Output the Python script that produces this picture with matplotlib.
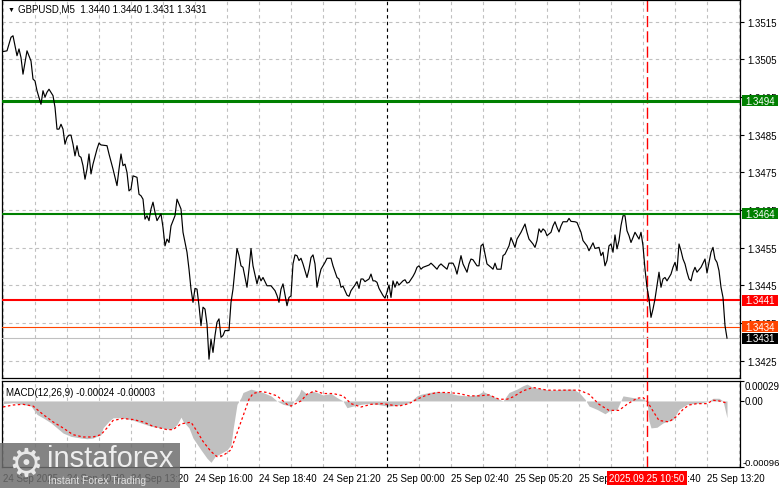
import matplotlib.pyplot as plt
import matplotlib.transforms as mtransforms
from matplotlib.patches import Rectangle
import numpy as np

W, H = 781, 489
plt.rcParams['font.family'] = ['Liberation Sans', 'DejaVu Sans']

# 5-minute bars counted from 25 Sep 00:00 (negative = 24 Sep)
price_bar = [
    -192, -190, -188, -187, -186, -185, -184, -183, -182, -181, -180, -178, -177, -176, -175,
    -173, -172, -171, -170, -169, -167, -166, -165, -164, -163, -162, -161, -160, -159, -158,
    -157, -156, -155, -154, -153, -152, -151, -150, -149, -148, -147, -145, -144, -143, -140,
    -139, -137, -135, -134, -133, -132, -131, -130, -129, -128, -127, -125, -124, -123, -122,
    -121, -120, -119, -118, -117, -116, -115, -113, -112, -111, -110, -109, -108, -106, -105,
    -103, -102, -100, -99, -98, -97, -96, -95, -94, -93, -92, -91, -90, -89, -88,
    -87, -86, -85, -84, -83, -82, -81, -79, -78, -77, -76, -75, -74, -73, -72,
    -70, -69, -68, -67, -65, -64, -63, -62, -60, -58, -56, -55, -54, -53, -52,
    -50, -49, -48, -47, -46, -45, -44, -43, -42, -40, -39, -38, -37, -36, -35,
    -34, -33, -31, -30, -28, -27, -25, -24, -23, -22, -20, -19, -18, -16, -15,
    -14, -13, -12, -11, -9, -8, -7, -6, -5, -4, -2, -1, 0, 1, 2,
    3, 4, 5, 6, 8, 9, 10, 11, 13, 14, 15, 16, 17, 18, 20,
    21, 22, 23, 25, 26, 27, 28, 30, 31, 33, 34, 35, 37, 38, 40,
    41, 42, 43, 45, 46, 47, 48, 49, 50, 52, 53, 54, 55, 57, 58,
    59, 61, 62, 63, 64, 65, 66, 67, 69, 70, 71, 73, 74, 75, 76,
    77, 78, 79, 80, 82, 83, 84, 85, 86, 87, 88, 90, 91, 92, 94,
    95, 97, 98, 100, 101, 103, 104, 106, 107, 108, 109, 110, 111, 112, 113,
    114, 115, 116, 117, 118, 119, 120, 121, 122, 123, 124, 125, 126, 127, 128,
    129, 130, 131, 132, 133, 134, 135, 136, 137, 138, 139, 140, 141, 142, 143,
    144, 145, 146, 147, 148, 149, 150, 151, 152, 153, 154, 155, 157, 159, 160,
    161, 162, 163, 164, 165, 166, 167, 168, 169, 170,
]
price_close = [
    1.35071, 1.35073, 1.35109, 1.35113, 1.35086, 1.35060, 1.35078, 1.35055, 1.35011, 1.35042,
    1.35073, 1.35046, 1.34998, 1.34993, 1.34967, 1.34931, 1.34967, 1.34950, 1.34963, 1.34971,
    1.34954, 1.34923, 1.34865, 1.34865, 1.34878, 1.34865, 1.34825, 1.34843, 1.34849, 1.34849,
    1.34825, 1.34794, 1.34821, 1.34794, 1.34790, 1.34768, 1.34732, 1.34759, 1.34799, 1.34746,
    1.34772, 1.34812, 1.34828, 1.34823, 1.34821, 1.34799, 1.34759, 1.34715, 1.34759, 1.34799,
    1.34768, 1.34772, 1.34750, 1.34701, 1.34706, 1.34741, 1.34737, 1.34692, 1.34688, 1.34679,
    1.34626, 1.34635, 1.34622, 1.34653, 1.34671, 1.34644, 1.34622, 1.34640, 1.34604, 1.34555,
    1.34573, 1.34564, 1.34608, 1.34635, 1.34679, 1.34653, 1.34591, 1.34538, 1.34493, 1.34440,
    1.34405, 1.34442, 1.34440, 1.34396, 1.34343, 1.34392, 1.34387, 1.34347, 1.34254, 1.34307,
    1.34272, 1.34317, 1.34352, 1.34361, 1.34312, 1.34317, 1.34330, 1.34330, 1.34405, 1.34440,
    1.34493, 1.34548, 1.34529, 1.34502, 1.34498, 1.34445, 1.34493, 1.34548, 1.34502, 1.34454,
    1.34476, 1.34462, 1.34471, 1.34449, 1.34449, 1.34436, 1.34423, 1.34405, 1.34440, 1.34454,
    1.34396, 1.34418, 1.34422, 1.34507, 1.34531, 1.34529, 1.34516, 1.34522, 1.34507, 1.34471,
    1.34493, 1.34524, 1.34531, 1.34507, 1.34445, 1.34471, 1.34493, 1.34511, 1.34522, 1.34522,
    1.34502, 1.34471, 1.34467, 1.34445, 1.34448, 1.34424, 1.34421, 1.34436, 1.34451, 1.34460,
    1.34442, 1.34467, 1.34467, 1.34460, 1.34467, 1.34480, 1.34462, 1.34462, 1.34458, 1.34442,
    1.34423, 1.34416, 1.34432, 1.34451, 1.34418, 1.34462, 1.34445, 1.34460, 1.34451, 1.34462,
    1.34465, 1.34456, 1.34458, 1.34474, 1.34484, 1.34498, 1.34502, 1.34493, 1.34498, 1.34502,
    1.34504, 1.34509, 1.34504, 1.34493, 1.34502, 1.34507, 1.34502, 1.34493, 1.34509, 1.34509,
    1.34498, 1.34480, 1.34529, 1.34507, 1.34485, 1.34507, 1.34520, 1.34518, 1.34502, 1.34502,
    1.34555, 1.34560, 1.34533, 1.34507, 1.34498, 1.34493, 1.34509, 1.34493, 1.34493, 1.34529,
    1.34533, 1.34555, 1.34577, 1.34564, 1.34551, 1.34573, 1.34582, 1.34591, 1.34613, 1.34591,
    1.34573, 1.34560, 1.34551, 1.34569, 1.34600, 1.34591, 1.34600, 1.34595, 1.34582, 1.34591,
    1.34608, 1.34619, 1.34604, 1.34592, 1.34608, 1.34619, 1.34619, 1.34628, 1.34620, 1.34619,
    1.34617, 1.34591, 1.34569, 1.34555, 1.34542, 1.34563, 1.34548, 1.34551, 1.34529, 1.34538,
    1.34502, 1.34516, 1.34555, 1.34560, 1.34538, 1.34584, 1.34547, 1.34569, 1.34609, 1.34635,
    1.34635, 1.34595, 1.34582, 1.34564, 1.34577, 1.34591, 1.34582, 1.34573, 1.34591, 1.34555,
    1.34493, 1.34445, 1.34414, 1.34365, 1.34387, 1.34414, 1.34449, 1.34485, 1.34445, 1.34467,
    1.34471, 1.34462, 1.34471, 1.34480, 1.34498, 1.34511, 1.34489, 1.34560, 1.34542, 1.34520,
    1.34507, 1.34485, 1.34467, 1.34462, 1.34485, 1.34498, 1.34485, 1.34498, 1.34520, 1.34483,
    1.34511, 1.34538, 1.34551, 1.34520, 1.34511, 1.34489, 1.34445, 1.34418, 1.34343, 1.34310,
]

# MACD main (histogram) and signal, in units of 1e-5
macd_bar = [
    -192, -187, -182, -178, -175, -172, -168, -165, -162, -158, -153, -150, -147, -143, -142,
    -139, -137, -133, -128, -123, -118, -113, -108, -105, -103, -102, -99, -97, -93, -90,
    -88, -86, -83, -80, -78, -77, -75, -73, -72, -68, -65, -62, -58, -55, -52,
    -48, -47, -44, -43, -40, -38, -35, -32, -28, -25, -22, -20, -17, -13, -10,
    -5, 0, 2, 6, 11, 15, 17, 21, 25, 30, 35, 40, 45, 48, 51,
    55, 58, 61, 65, 68, 70, 73, 78, 83, 88, 93, 96, 99, 101, 105,
    109, 111, 115, 118, 123, 128, 130, 131, 132, 135, 138, 143, 146, 150, 153,
    158, 161, 163, 166, 168, 170,
]
macd_main = [
    -3.9, -2.5, -4.9, -7.4, -19.6, -24.5, -31.9, -39.2, -46.6, -51.5, -53.9, -54.9, -53.9, -49.0, -39.2,
    -29.4, -24.5, -24.5, -27.0, -31.9, -36.8, -39.2, -41.7, -34.3, -23.5, -29.4, -39.2, -53.9, -71.1, -83.3,
    -89.2, -80.9, -76.0, -71.1, -63.7, -41.7, -4.9, 4.9, 12.3, 17.2, 14.7, 12.3, 7.4, 0.0, -4.9,
    -7.4, -2.5, 9.8, 17.2, 9.8, 14.7, 12.3, 8.8, 10.8, 4.9, 0.0, -9.8, -7.4, -4.9, -3.9,
    -4.9, -7.4, -7.4, -5.9, -2.5, 7.4, 9.8, 12.3, 13.7, 12.3, 8.8, 7.4, 8.8, 13.7, 9.8,
    3.9, 0.0, 12.3, 17.2, 22.1, 24.5, 19.6, 17.2, 15.7, 17.2, 17.2, 12.3, 2.5, -7.4, -12.3,
    -18.6, -14.7, -12.3, 7.4, 4.9, 2.5, 0.0, -29.4, -39.2, -38.2, -31.9, -27.0, -12.3, -4.9, -3.9,
    -2.5, 0.0, 3.9, 3.9, 0.0, -24.5,
]
signal_bar = [
    -192, -187, -182, -177, -172, -167, -162, -157, -152, -147, -143, -140, -137, -132, -127,
    -122, -117, -110, -107, -103, -98, -95, -92, -88, -85, -82, -78, -75, -72, -69,
    -67, -63, -60, -55, -50, -48, -43, -40, -36, -32, -27, -22, -18, -13, -8,
    -2, 2, 6, 11, 15, 20, 25, 30, 36, 41, 46, 51, 56, 60, 63,
    68, 73, 80, 88, 96, 101, 106, 111, 116, 120, 125, 128, 130, 133, 136,
    141, 145, 148, 151, 155, 160, 163, 166, 170,
]
signal_val = [
    -8.8, -5.9, -4.9, -7.4, -19.6, -30.4, -39.2, -49.0, -52.4, -52.4, -49.0, -39.2, -28.4, -25.5, -27.0,
    -30.4, -36.8, -41.7, -41.7, -33.3, -30.9, -44.1, -58.8, -73.5, -80.9, -79.4, -71.1, -46.6, -22.1, 2.5,
    10.8, 13.7, 12.3, 7.4, -4.9, -7.4, 0.0, 9.8, 14.7, 10.8, 10.8, 7.4, -3.9, -8.8, -4.9,
    -3.9, -5.9, -7.4, -3.9, 2.5, 8.8, 12.3, 12.3, 10.8, 7.4, 7.4, 8.8, 2.5, 2.5, 5.9,
    14.7, 19.6, 15.7, 15.7, 15.7, 9.8, -4.9, -13.7, -13.7, -4.9, 3.9, 4.9, 0.0, -14.7, -28.4,
    -30.4, -22.1, -12.3, -5.9, -3.9, -3.9, 1.0, 0.0, -3.0,
]

time_labels = ['24 Sep 2025', '24 Sep 10:40', '24 Sep 13:20', '24 Sep 16:00', '24 Sep 18:40',
               '24 Sep 21:20', '25 Sep 00:00', '25 Sep 02:40', '25 Sep 05:20', '25 Sep 08:00',
               '25 Sep 10:40', '25 Sep 13:20']

levels = [1.3494, 1.3464, 1.3441, 1.3434, 1.3431]
level_colors = ['#008000', '#008000', '#ff0000', '#ff4500', '#c0c0c0']
level_widths = [2.2, 1.5, 1.5, 0.8, 0.8]
level_boxes = ['#008000', '#008000', '#ff0000', '#ff4500', '#000000']

price_ticks = [1.3425, 1.3435, 1.3445, 1.3455, 1.3465, 1.3475, 1.3485, 1.3495, 1.3505, 1.3515]
cursor_bar = 130
day_bar = 0

fig = plt.figure(figsize=(W / 100, H / 100), dpi=100)
ax = fig.add_axes([2 / W, 1 - 379 / H, 738 / W, 378 / H])
ax2 = fig.add_axes([2 / W, 1 - 468 / H, 738 / W, 86 / H])

grid_bars = np.arange(-192, 177, 16)
grid_kw = dict(color='#c0c0c0', linestyle=(0, (3, 3)), linewidth=0.8)
y_lo, y_hi = 1.34204, 1.35208

# ------------- price panel
ax.plot(price_bar, price_close, color='black', linewidth=0.85, zorder=4)
for lv, c, lw in zip(levels, level_colors, level_widths):
    ax.axhline(lv, color=c, linewidth=lw, zorder=3)
ax.axvline(day_bar, color='black', linestyle=(0, (3, 3)), linewidth=0.8, zorder=2)
ax.axvline(cursor_bar, color='#ff0000', linestyle=(0, (8, 3)), linewidth=1.0, zorder=2)
ax.set_xlim(-192.5, 176.5)
ax.set_ylim(y_lo, y_hi)
ax.set_xticks(grid_bars)
ax.set_yticks(price_ticks)
ax.set_yticklabels(['%.4f' % t for t in price_ticks])
ax.grid(True, **grid_kw)
ax.tick_params(axis='x', length=0, labelbottom=False)
ax.tick_params(axis='y', left=False, labelleft=False, right=True, labelright=True,
               length=3, width=0.8, pad=2, labelsize=7)
for s in ax.spines.values():
    s.set_linewidth(0.9)

# coloured price boxes on the right scale
ytr = mtransforms.blended_transform_factory(ax.transAxes, ax.transData)
box_h = 11 * (y_hi - y_lo) / 378
for lv, bc in zip(levels, level_boxes):
    ax.add_patch(Rectangle((1 + 2 / 738, lv - box_h / 2), 36 / 738, box_h, transform=ytr,
                           fc=bc, ec='none', clip_on=False, zorder=9))
    ax.text(1 + 5 / 738, lv, '%.4f' % lv, transform=ytr, fontsize=7, color='white',
            va='center', ha='left', clip_on=False, zorder=10)

# ------------- MACD panel
macd_y = np.array(macd_main) * 1e-5
sig_y = np.array(signal_val) * 1e-5
ax2.fill_between(macd_bar, 0, macd_y, color='#c0c0c0', linewidth=0, zorder=2)
ax2.plot(signal_bar, sig_y, color='#ff0000', linestyle=(0, (2, 2)), linewidth=0.9, zorder=3)
ax2.axvline(day_bar, color='black', linestyle=(0, (3, 3)), linewidth=0.8, zorder=2)
ax2.axvline(cursor_bar, color='#ff0000', linestyle=(0, (8, 3)), linewidth=1.0, zorder=4)
ax2.set_xlim(-192.5, 176.5)
ax2.set_ylim(-0.00096, 0.00029)
ax2.set_xticks(grid_bars)
ax2.set_xticklabels([time_labels[i // 2] if i % 2 == 0 else '' for i in range(len(grid_bars))],
                    ha='left')
ax2.grid(True, axis='x', **grid_kw)
ax2.tick_params(axis='x', length=0, pad=4, labelsize=7)
ax2.set_yticks([0.00029, 0.0, -0.00096])
ax2.set_yticklabels([])
ax2.tick_params(axis='y', left=False, right=True, length=3, width=0.8)
for s in ax2.spines.values():
    s.set_linewidth(0.9)
ytr2 = mtransforms.blended_transform_factory(ax2.transAxes, ax2.transData)
ax2.text(1 + 5 / 738, 0.00029, '0.00029', transform=ytr2, fontsize=7, va='top', ha='left')
ax2.text(1 + 5 / 738, 0.0, '0.00', transform=ytr2, fontsize=7, va='center', ha='left')
ax2.text(1 + 3 / 738, -0.00096, '-0.00096', transform=ytr2, fontsize=6.8, va='bottom', ha='left')
ax2.text(0.006, 0.93, 'MACD(12,26,9) -0.00024 -0.00003', transform=ax2.transAxes,
         fontsize=7, va='top', ha='left')

# ------------- header and overlays
fig.text(8 / W, 1 - 10 / H, '\u25bc', fontsize=5, va='center', ha='left')
fig.text(18 / W, 1 - 10 / H, 'GBPUSD,M5  1.3440 1.3440 1.3431 1.3431', fontsize=7,
         va='center', ha='left')
fig.text(647 / W, 1 - 479 / H, '2025.09.25 10:50', fontsize=7, color='white', va='center',
         ha='center', bbox=dict(boxstyle='square,pad=0.2', fc='#ff0000', ec='none'))

# watermark
fig.patches.append(Rectangle((0, 0), 180 / W, 45 / H, transform=fig.transFigure,
                             fc='#6e6e6e', ec='none', alpha=0.85, zorder=5))
fig.text(26 / W, 1 - 465 / H, '\u2699', fontsize=28, color='#e8e8e8', va='center',
         ha='center', family='DejaVu Sans', zorder=6)
fig.text(47 / W, 1 - 459 / H, 'instaforex', fontsize=21, color='#eeeeee', va='center',
         ha='left', zorder=6)
fig.text(48 / W, 1 - 481 / H, 'Instant Forex Trading', fontsize=7.5, color='#e0e0e0',
         va='center', ha='left', zorder=6)

fig.savefig('out.png', dpi=100)
